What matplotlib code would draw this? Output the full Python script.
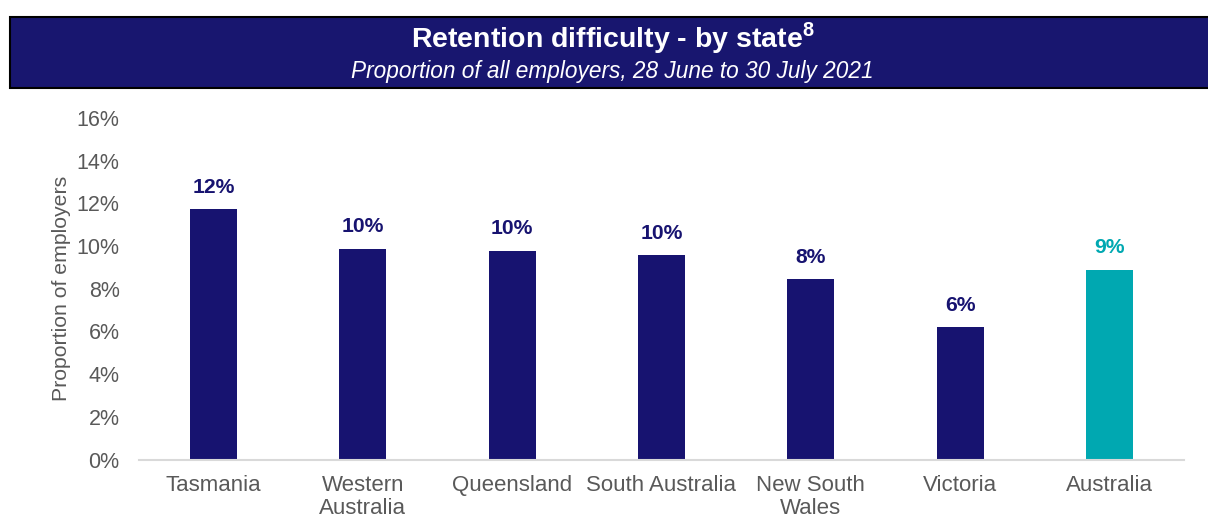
import matplotlib
matplotlib.use("Agg")
import matplotlib.pyplot as plt
from matplotlib.patches import Rectangle

plt.rcParams['font.family'] = ['Liberation Sans', 'DejaVu Sans']
plt.rcParams['mathtext.fontset'] = 'custom'
plt.rcParams['mathtext.rm'] = 'Liberation Sans:bold'

# retention difficulty by state, share of employers (%)
states = ['Tasmania', 'Western\nAustralia', 'Queensland', 'South Australia',
          'New South\nWales', 'Victoria', 'Australia']
values = [11.72, 9.87, 9.78, 9.58, 8.45, 6.19, 8.88]
yticks = [0, 2, 4, 6, 8, 10, 12, 14, 16]

NAVY = '#171370'
TEAL = '#00A8B1'
GREY = '#595959'
colors = [NAVY] * (len(states) - 1) + [TEAL]

fig = plt.figure(figsize=(12.08, 5.18), dpi=100)

# header banner
fig.patches.append(Rectangle((10 / 1208, 1 - 88 / 518), 1210 / 1208, 71 / 518,
                             transform=fig.transFigure, facecolor='#18166F',
                             edgecolor='black', linewidth=1.5))
fig.text(0.507, 1 - 38 / 518, 'Retention difficulty - by state$^{8}$',
         color='white', fontsize=20.5, fontweight='bold', ha='center', va='center')
fig.text(0.507, 1 - 72 / 518, 'Proportion of all employers, 28 June to 30 July 2021',
         color='white', fontsize=16.3, style='italic', ha='center', va='center')

ax = fig.add_axes([139 / 1208, 58.5 / 518, 1045 / 1208, 341.5 / 518])
x = range(len(states))
bars = ax.bar(x, values, width=0.315, color=colors)

for xi, v, c in zip(x, values, colors):
    ax.annotate(f'{v:.0f}%', (xi, v), xytext=(0, 9), textcoords='offset points',
                ha='center', va='bottom', fontsize=15.2, fontweight='bold', color=c)

ax.set_xlim(-0.5, len(states) - 0.5)
ax.set_ylim(0, 16)
ax.set_yticks(yticks)
ax.set_yticklabels([f'{t}%' for t in yticks])
ax.set_xticks(list(x))
ax.set_xticklabels(states, linespacing=1.12)
ax.tick_params(axis='both', length=0, labelcolor=GREY)
ax.tick_params(axis='y', pad=14, labelsize=15.5)
ax.tick_params(axis='x', pad=11, labelsize=16)
ax.set_ylabel('Proportion of employers', fontsize=15.3, color=GREY, labelpad=4)

for side in ['top', 'right', 'left']:
    ax.spines[side].set_visible(False)
ax.spines['bottom'].set_color('#D9D9D9')
ax.spines['bottom'].set_linewidth(1.5)

fig.savefig('out.png', dpi=100)
